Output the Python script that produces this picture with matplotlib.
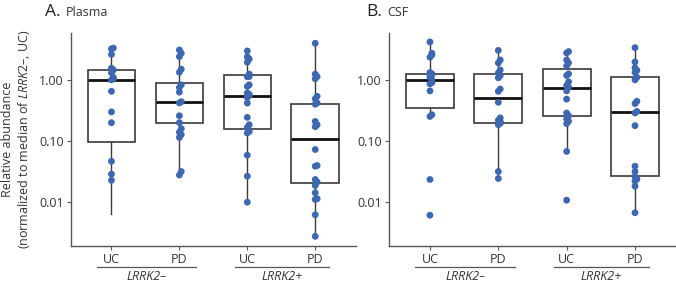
import numpy as np
import matplotlib
matplotlib.use("Agg")
import matplotlib.pyplot as plt
from matplotlib.ticker import FixedLocator, FixedFormatter, NullLocator

plt.rcParams['font.family'] = ['Open Sans', 'DejaVu Sans']
plt.rcParams['mathtext.fontset'] = 'custom'
plt.rcParams['mathtext.rm'] = 'Open Sans'
plt.rcParams['mathtext.it'] = 'Open Sans:italic'

groups = ["UC", "PD", "UC", "PD"]
genotypes = ["LRRK2\u2013", "LRRK2+"]

# plasma, per group: LRRK2- UC, LRRK2- PD, LRRK2+ UC, LRRK2+ PD
plasma_pts = [
    [3.3, 3.2, 2.6, 1.55, 1.45, 1.3, 1.1, 1.05, 1.0, 0.65, 0.30, 0.20, 0.047, 0.029, 0.023],
    [3.07, 2.72, 2.39, 1.49, 1.33, 0.83, 0.75, 0.63, 0.44, 0.42, 0.26, 0.20, 0.16, 0.14,
     0.128, 0.115, 0.032, 0.028],
    [2.96, 2.37, 2.19, 1.94, 1.24, 1.13, 1.12, 0.83, 0.78, 0.61, 0.58, 0.556, 0.515, 0.418,
     0.244, 0.185, 0.168, 0.144, 0.136, 0.059, 0.0268, 0.0101],
    [3.95, 1.24, 1.13, 1.04, 0.54, 0.49, 0.42, 0.40, 0.21, 0.185, 0.172, 0.073, 0.040, 0.039,
     0.0237, 0.0215, 0.0189, 0.0144, 0.0115, 0.0112, 0.0063, 0.0028],
]
plasma_q1 = [0.097, 0.197, 0.16, 0.0204]
plasma_med = [1.0, 0.434, 0.55, 0.108]
plasma_q3 = [1.45, 0.88, 1.2, 0.41]
plasma_wlo = [0.0064, 0.028, 0.0101, 0.0028]
plasma_whi = [3.3, 3.07, 2.96, 3.95]

csf_pts = [
    [4.15, 2.72, 2.55, 2.34, 1.32, 1.25, 1.21, 1.12, 1.0, 0.90, 0.86, 0.66, 0.27, 0.253,
     0.0237, 0.0062],
    [3.02, 2.11, 1.89, 1.45, 1.30, 1.18, 1.08, 0.71, 0.65, 0.43, 0.24, 0.22, 0.21, 0.20,
     0.196, 0.185, 0.032, 0.0246],
    [2.89, 2.75, 2.11, 1.89, 1.69, 1.25, 1.18, 0.93, 0.81, 0.76, 0.66, 0.485, 0.288, 0.26,
     0.232, 0.211, 0.193, 0.068, 0.0109],
    [3.35, 1.96, 1.57, 1.43, 1.32, 1.10, 1.0, 0.447, 0.41, 0.305, 0.288, 0.179, 0.039,
     0.0319, 0.0265, 0.0241, 0.0222, 0.0184, 0.0068],
]
csf_q1 = [0.342, 0.197, 0.257, 0.0268]
csf_med = [1.0, 0.50, 0.75, 0.298]
csf_q3 = [1.25, 1.25, 1.51, 1.13]
csf_wlo = [0.253, 0.0246, 0.068, 0.0068]
csf_whi = [4.15, 3.02, 2.89, 3.35]

pt_color = '#3d67b1'
grey = '#555555'


def dodge(vals, step=0.028, thr=0.07):
    # small beeswarm-like offsets so touching dots don't sit on top of each other
    lv = np.log10(vals)
    order = np.argsort(lv)
    off = np.zeros(len(vals))
    placed = []
    for i in order:
        k = 0
        for j in placed:
            if abs(lv[i] - lv[j]) < thr and off[j] == 0:
                k += 1
        off[i] = 0 if k == 0 else step * (1 if k % 2 else -1)
        placed.append(i)
    return off


def panel(ax, pts, q1, med, q3, wlo, whi, ylab):
    pos = np.arange(1, 5)
    stats = []
    for i in range(4):
        stats.append(dict(med=med[i], q1=q1[i], q3=q3[i], whislo=wlo[i], whishi=whi[i], fliers=[]))
    ax.bxp(stats, positions=pos, widths=0.7, showcaps=False, showfliers=False,
           patch_artist=True,
           boxprops=dict(facecolor='white', edgecolor='#3a3a3a', linewidth=1.2),
           medianprops=dict(color='#111111', linewidth=2.0),
           whiskerprops=dict(color='#3a3a3a', linewidth=1.0), zorder=1)
    for i in range(4):
        v = np.array(pts[i])
        ax.scatter(pos[i] + dodge(v), v, s=24, color=pt_color, edgecolors='none', zorder=3)

    ax.set_yscale('log')
    ax.set_ylim(10 ** -2.705, 10 ** 0.764)
    ax.set_xlim(0.4, 4.6)
    ax.yaxis.set_major_locator(FixedLocator([0.01, 0.1, 1.0]))
    ax.yaxis.set_major_formatter(FixedFormatter(["0.01", "0.10", "1.00"]))
    ax.yaxis.set_minor_locator(NullLocator())
    ax.set_xticks(pos)
    ax.set_xticklabels(groups)
    for s in ['top', 'right']:
        ax.spines[s].set_visible(False)
    for s in ['left', 'bottom']:
        ax.spines[s].set_color(grey)
        ax.spines[s].set_linewidth(1.0)
    ax.tick_params(axis='both', colors=grey, labelcolor='#333333', labelsize=9,
                   length=3, width=0.8, pad=2)

    tr = ax.get_xaxis_transform()
    for (a, b), g in zip([(0.78, 2.25), (2.82, 4.2)], genotypes):
        ax.plot([a, b], [-0.099, -0.099], transform=tr, color=grey, lw=0.9, clip_on=False)
        ax.text((a + b) / 2, -0.147, g, transform=tr, ha='center', va='center',
                fontsize=9, color='#333333', style='italic')

    if ylab:
        ax.set_ylabel("Relative abundance\n(normalized to median of $\\mathit{LRRK2}$\u2013, UC)",
                      fontsize=9, color='#333333', labelpad=5)


fig = plt.figure(figsize=(6.76, 2.83), dpi=100)
axA = fig.add_axes([0.1046, 0.1318, 0.422, 0.7516])
axB = fig.add_axes([0.5754, 0.1318, 0.4246, 0.7516])
panel(axA, plasma_pts, plasma_q1, plasma_med, plasma_q3, plasma_wlo, plasma_whi, True)
panel(axB, csf_pts, csf_q1, csf_med, csf_q3, csf_wlo, csf_whi, False)

fig.text(45 / 676, 1 - 12 / 283, "A.", fontsize=12.5, color='#222222', va='center')
fig.text(66 / 676, 1 - 13 / 283, "Plasma", fontsize=9, color='#333333', va='center')
fig.text(366 / 676, 1 - 12 / 283, "B.", fontsize=12.5, color='#222222', va='center')
fig.text(387 / 676, 1 - 13 / 283, "CSF", fontsize=9, color='#333333', va='center')

fig.savefig("out.png", dpi=100)
